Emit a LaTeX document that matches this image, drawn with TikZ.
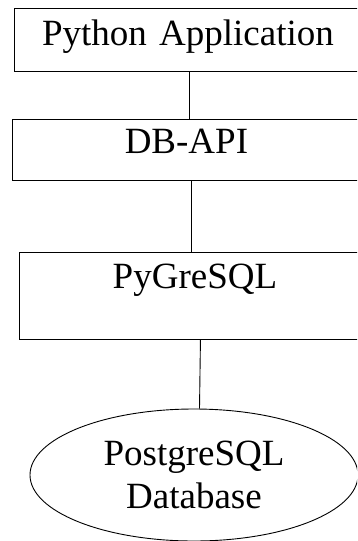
\documentclass[tikz,border=0pt]{standalone}
\usepackage{fontspec}
\setmainfont{Liberation Serif}
\usetikzlibrary{shapes.geometric}

\begin{document}
\begin{tikzpicture}[x=1pt, y=-1pt, line width=0.9pt,
    layer/.style={draw, rectangle, inner sep=0pt, align=center,
      font=\fontsize{37}{43}\selectfont},
    store/.style={draw, ellipse, inner sep=0pt, align=center,
      minimum width=328pt, minimum height=132pt,
      font=\fontsize{37}{43}\selectfont}]

  % Frame of the page
  \useasboundingbox (0, 0) rectangle (357, 541);
  \clip (0, 0) rectangle (357, 541);

  % Layers
  \node[layer, anchor=north west, text width=347pt,
        text height=37pt, text depth=26pt]
    (app) at (14, 8) {Python Application};
  \node[layer, anchor=north west, text width=348pt,
        text height=34pt, text depth=27pt]
    (api) at (12, 119) {DB-API};
  \node[layer, anchor=north west, text width=351pt,
        text height=36pt, text depth=51pt]
    (pg) at (19, 252) {PyGreSQL};

  % Database
  \node[store] (db) at (194, 475) {PostgreSQL\\Database};

  % Links
  \draw ([xshift=1.5pt]app.south) -- ([xshift=1.5pt]app.south |- api.north);
  \draw ([xshift=5pt]api.south) -- ([xshift=5pt]api.south |- pg.north);
  \draw ([xshift=5.5pt]pg.south) -- ([xshift=5.5pt]db.north);

\end{tikzpicture}
\end{document}
